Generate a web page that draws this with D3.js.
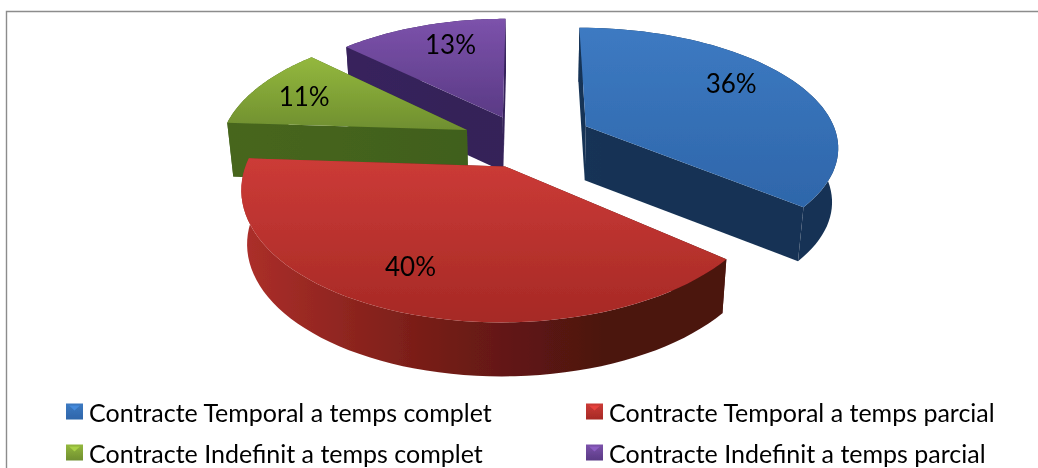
<!DOCTYPE html>
<html><head><meta charset="utf-8"><script src="https://cdn.jsdelivr.net/npm/d3@7"></script>
<style>html,body{margin:0;padding:0;background:#fff}svg{display:block}text{font-family:Lato,"Open Sans",sans-serif;fill:#000}</style></head>
<body><svg id="c" width="1038" height="468"></svg>
<script>
const categories=["Contracte Temporal a temps complet","Contracte Temporal a temps parcial","Contracte Indefinit a temps complet","Contracte Indefinit a temps parcial"];
const values=[36,40,11,13];
const topLight=["#3d7ac2","#cc3b37","#94b83e","#7c52ab"];
const topDark=["#2e66aa","#a62925","#6f8f2f","#5a3a85"];
const wallStart=["#1b3f6c","#b0302b","#47661f","#3a2660"];
const wallMid=["#18375f","#701b15","#41601c","#352259"];
const wallEnd=["#163355","#4c1410","#3f5a1c","#33205a"];
const drawOrder=[3,2,0,1];
const labelNudge=[[-2,-13],[-18,8],[-19,-3],[4,-7]];
const sliceXScale=[.96,.96,.94,.946];
const sliceXAnchor=[747,410,260,398];
const sliceYScale=[.97,1.01,1,1];
const sliceYAnchor=[28,-40,0,0];

const W=1038,H=468,cx=530,cy=140,rx=262,ry=121,persp=.16,explode=.21,depth=54,taper=.98;
const svg=d3.select("#c");
const defs=svg.append("defs");
defs.append("filter").attr("id","soft").append("feGaussianBlur").attr("stdDeviation",.6);
defs.append("filter").attr("id","softText").append("feGaussianBlur").attr("stdDeviation",.35);
svg.append("rect").attr("width",W).attr("height",H).attr("fill","#fff");
svg.append("path").attr("d",`M6.5 ${H}V11.5H${W}`).attr("fill","none").attr("stroke","#8c8c8c").attr("stroke-width",1.4);

const arcs=d3.pie().sort(null).startAngle(0).endAngle(2*Math.PI)(values);
const proj=(x,y)=>{const w=1-persp*y;return [cx+rx*x/w,cy+ry*y/w];};
const line=d3.line();
const g=svg.append("g").attr("filter","url(#soft)");
drawOrder.forEach(i=>{
  const a=arcs[i],mid=(a.startAngle+a.endAngle)/2;
  const ox=explode*Math.sin(mid),oy=-explode*Math.cos(mid);
  const ang=d3.range(0,61).map(k=>a.startAngle+(a.endAngle-a.startAngle)*k/60);
  const warp=p=>{const [X,Y]=proj(p[0],p[1]);
    return [sliceXAnchor[i]+sliceXScale[i]*(X-sliceXAnchor[i]),sliceYAnchor[i]+sliceYScale[i]*(Y-sliceYAnchor[i])];};
  const low=q=>[cx+(q[0]-cx)*taper,q[1]+depth];
  const apex=warp([ox,oy]);
  const rim=ang.map(t=>warp([ox+Math.sin(t),oy-Math.cos(t)]));
  const gradW=defs.append("linearGradient").attr("id","w"+i).attr("gradientUnits","userSpaceOnUse")
    .attr("x1",cx-300).attr("x2",cx+300).attr("y1",0).attr("y2",0);
  [[0,wallStart],[.37,wallMid],[.62,wallEnd],[1,wallEnd]].forEach(([o,c])=>gradW.append("stop").attr("offset",o).attr("stop-color",c[i]));
  const gradT=defs.append("linearGradient").attr("id","t"+i).attr("x1",0).attr("x2",0).attr("y1",0).attr("y2",1);
  gradT.append("stop").attr("offset",0).attr("stop-color",topLight[i]);
  gradT.append("stop").attr("offset",1).attr("stop-color",topDark[i]);
  const wallFill=`url(#w${i})`;
  const quad=pts=>g.append("path").attr("d",line(pts)+"Z").attr("fill",wallFill);
  quad([apex,rim[0],low(rim[0]),low(apex)]);
  quad([apex,rim[60],low(rim[60]),low(apex)]);
  quad([...rim,...rim.slice().reverse().map(low)]);
  g.append("path").attr("d",line([apex,...rim])+"Z").attr("fill",`url(#t${i})`);
});
arcs.forEach((a,i)=>{
  const mid=(a.startAngle+a.endAngle)/2,r=explode+.7;
  const [X,Y]=proj(r*Math.sin(mid),-r*Math.cos(mid));
  svg.append("text").attr("x",X+labelNudge[i][0]).attr("y",Y+labelNudge[i][1]).attr("text-anchor","middle")
    .attr("dominant-baseline","central").attr("font-size",26).attr("filter","url(#softText)").text(d3.format(".0f")(a.value)+"%");
});
// legend
const legendX=d3.scaleOrdinal().domain([0,1]).range([66,586]);
const legendY=d3.scaleOrdinal().domain([0,1]).range([411.5,452.5]);
categories.forEach((c,i)=>{
  const col=i%2,row=Math.floor(i/2),x=legendX(col),y=legendY(row);
  const gr=defs.append("linearGradient").attr("id","l"+i).attr("x1",0).attr("x2",0).attr("y1",0).attr("y2",1);
  gr.append("stop").attr("offset",0).attr("stop-color",topLight[i]);
  gr.append("stop").attr("offset",1).attr("stop-color",topDark[i]);
  const sw=svg.append("g").attr("filter","url(#soft)");
  sw.append("rect").attr("x",x).attr("y",y-8).attr("width",17).attr("height",16).attr("fill",`url(#l${i})`);
  sw.append("path").attr("d",line([[x+3,y-6],[x+14,y-6],[x+8.5,y-1]])+"Z").attr("fill",d3.color(topLight[i]).brighter(.35));
  svg.append("text").attr("x",x+23).attr("y",y+.5).attr("dominant-baseline","central").attr("font-size",25).attr("filter","url(#softText)").text(c);
});
</script></body></html>
